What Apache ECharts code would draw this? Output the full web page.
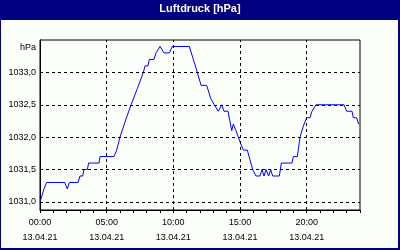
<!DOCTYPE html>
<html>
<head>
<meta charset="utf-8">
<script src="https://cdn.jsdelivr.net/npm/echarts@6/dist/echarts.min.js"></script>
<style>
html,body{margin:0;padding:0;background:#fafffa;}
#c{width:400px;height:250px;}
</style>
</head>
<body>
<div id="c"></div>
<script>
// Time of day in hours (13.04.21)
var hours = [0.0,0.15,0.3,0.5,1.85,2.05,2.2,2.85,3.0,3.2,3.3,3.55,3.65,4.43,4.5,5.55,5.75,6.0,6.4,6.83,7.3,7.75,7.88,8.1,8.2,8.55,8.7,9.0,9.1,9.3,9.7,9.92,11.2,11.5,11.8,12.08,12.5,12.8,13.07,13.37,13.63,13.8,14.1,14.38,14.5,14.7,14.85,15.05,15.25,15.55,15.75,15.95,16.2,16.5,16.65,16.8,16.95,17.05,17.15,17.3,17.45,17.95,18.1,18.9,19.0,19.3,19.5,19.75,20.0,20.25,20.4,20.55,20.7,22.8,23.0,23.4,23.5,23.75,23.9];
var pressure = [1031.0,1031.1,1031.2,1031.3,1031.3,1031.2,1031.3,1031.3,1031.4,1031.4,1031.5,1031.5,1031.6,1031.6,1031.7,1031.7,1031.8,1032.0,1032.25,1032.5,1032.75,1033.0,1033.1,1033.1,1033.2,1033.2,1033.3,1033.4,1033.4,1033.3,1033.3,1033.4,1033.4,1033.2,1033.0,1032.8,1032.8,1032.6,1032.5,1032.4,1032.5,1032.4,1032.4,1032.1,1032.2,1032.1,1032.1,1031.9,1031.8,1031.8,1031.65,1031.5,1031.4,1031.4,1031.5,1031.4,1031.5,1031.5,1031.4,1031.5,1031.4,1031.4,1031.6,1031.6,1031.7,1031.7,1032.0,1032.17,1032.3,1032.3,1032.4,1032.4,1032.5,1032.5,1032.4,1032.4,1032.3,1032.3,1032.2];
var xGridHours = [5,10,15,20];
var yGridValues = [1031.0,1031.5,1032.0,1032.5,1033.0];
var dateLabel = '13.04.21';
var titleText = 'Luftdruck [hPa]';
var unitText = 'hPa';

var seriesData = hours.map(function(h,i){return [h,pressure[i]];});
var FONT = 'Liberation Sans';
var markData = xGridHours.map(function(h){return {xAxis:h};}).concat(yGridValues.map(function(v){return {yAxis:v};}));

var chart = echarts.init(document.getElementById('c'), null, {renderer:'canvas'});
chart.setOption({
  backgroundColor:'#fafffa',
  animation:false,
  title:{text:titleText,left:'center',top:3,padding:0,
    textStyle:{color:'#ffffff',fontSize:11,fontWeight:'bold',fontFamily:FONT}},
  graphic:[
    {type:'rect',z:-1,shape:{x:0,y:0,width:400,height:20},style:{fill:'#000080'}},
    {type:'rect',z:-1,shape:{x:0,y:0,width:1,height:250},style:{fill:'#000080'}},
    {type:'rect',z:-1,shape:{x:398,y:0,width:2,height:250},style:{fill:'#000080'}},
    {type:'rect',z:-1,shape:{x:0,y:248,width:400,height:2},style:{fill:'#000080'}}
  ],
  grid:{left:40,right:40,top:40,bottom:40,show:true,borderColor:'#000',borderWidth:1,backgroundColor:'transparent'},
  xAxis:{type:'value',min:0,max:24,interval:1,
    axisLine:{show:true,lineStyle:{color:'#000',width:1}},
    axisTick:{show:true,length:3,lineStyle:{color:'#000'}},
    splitLine:{show:false},
    axisLabel:{color:'#000',fontSize:9,fontFamily:FONT,margin:5,lineHeight:15,
      formatter:function(v){
        if(v%5!==0||v>=24) return '';
        var s=(v<10?'0':'')+v+':00';
        return s+'\n'+dateLabel;
      }}},
  yAxis:{type:'value',min:1030.875,max:1033.5,interval:0.125,
    name:unitText,nameLocation:'end',nameGap:-3,
    nameTextStyle:{color:'#000',fontSize:9,fontFamily:FONT,align:'right',verticalAlign:'top',padding:[0,4,0,0]},
    axisLine:{show:true,lineStyle:{color:'#000',width:1}},
    axisTick:{show:false},
    splitLine:{show:false},
    axisLabel:{color:'#000',fontSize:9,fontFamily:FONT,margin:4,
      formatter:function(v){
        var r=Math.round(v*1000)/1000;
        if(Math.abs(r*2-Math.round(r*2))>1e-6) return '';
        if(r<1030.99||r>1033.01) return '';
        return r.toFixed(1).replace('.',',');
      }}},
  series:[
    {type:'line',z:1,data:seriesData,showSymbol:false,lineStyle:{opacity:0},silent:true,
      markLine:{silent:true,symbol:['none','none'],label:{show:false},
        lineStyle:{color:'#000',width:1,type:[3,3]},data:markData}},
    {type:'line',z:3,data:seriesData,showSymbol:false,silent:true,
      lineStyle:{color:'#0000ff',width:1}}
  ]
});
</script>
</body>
</html>
